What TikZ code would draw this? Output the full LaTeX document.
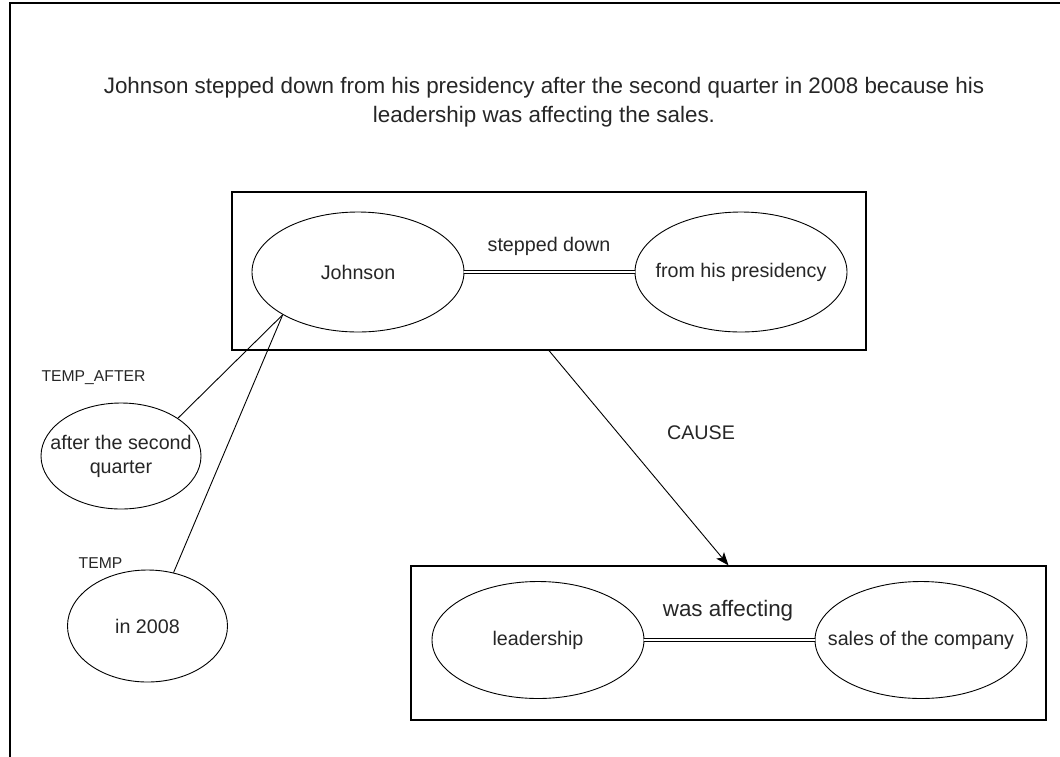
\documentclass[tikz,border=0pt]{standalone}
\usepackage{fontspec}
\setmainfont{Liberation Sans}
\usetikzlibrary{shapes.geometric, arrows.meta}
\begin{document}
\begin{tikzpicture}[x=1pt, y=-1pt,
  ent/.style={draw, ellipse, line width=0.9pt, inner sep=0pt,
              minimum width=#1},
  ent/.default=212pt,
  group/.style={draw, rectangle, line width=1.2pt, inner sep=0pt},
  txt/.style={font=\fontsize{19.7}{24}\selectfont, text=black!85, align=center},
  big/.style={font=\fontsize{22.4}{28.5}\selectfont, text=black!85, align=center},
  small/.style={font=\fontsize{15.7}{19}\selectfont, text=black!85},
  rel/.style={double, double distance=2.4pt, line width=0.9pt},
  link/.style={line width=0.9pt}
]
\useasboundingbox (0,0) rectangle (1060,756);

% outer frame (only its top and left edges fall inside the page)
\draw[line width=1.3pt] (10,770) -- (10,3) -- (1070,3);

% sentence
\node[big] (title) at (544,102)
  {Johnson stepped down from his presidency after the second quarter in 2008 because his\\
   leadership was affecting the sales.};

% main clause
\node[group, minimum width=634pt, minimum height=158pt] (B1) at (549,271) {};
\node[ent, minimum height=120pt] (J) at (358,272) {};
\node[txt] at (J) {Johnson};
\node[ent, minimum height=120pt] (P) at (741,272) {};
\node[txt] at (P) {from his presidency};
\draw[rel] (J) -- (P);
\node[txt] (sd) at (549,246) {stepped down};

% subordinate clause
\node[group, minimum width=635pt, minimum height=154pt] (B2) at (728.5,643) {};
\node[ent, minimum height=117pt] (L) at (538,640) {};
\node[txt] at (L) {leadership};
\node[ent, minimum height=117pt] (S) at (921,640) {};
\node[txt] at (S) {sales of the company};
\draw[rel] (L) -- (S);
\node[big] (wa) at (728,611) {was affecting};

% causal link
\draw[link, -{Stealth[length=13pt, width=10pt, inset=3pt]}] (B1.south) -- (B2.north);
\node[txt] (cause) at (701,433) {CAUSE};

% temporal modifiers
\node[ent=160pt, minimum height=106pt] (A) at (121,456) {};
\node[txt] at (A) {after the second\\quarter};
\node[ent=160pt, minimum height=112pt] (T) at (147.5,626) {};
\node[txt] at (T) {in 2008};
\draw[link] (J.south west) -- (A.north east);
\draw[link] (J.south west) -- (T.64);
\node[small] (lta) at (93.5,378) {TEMP\_AFTER};
\node[small] (lt) at (100.5,563) {TEMP};
\end{tikzpicture}
\end{document}
